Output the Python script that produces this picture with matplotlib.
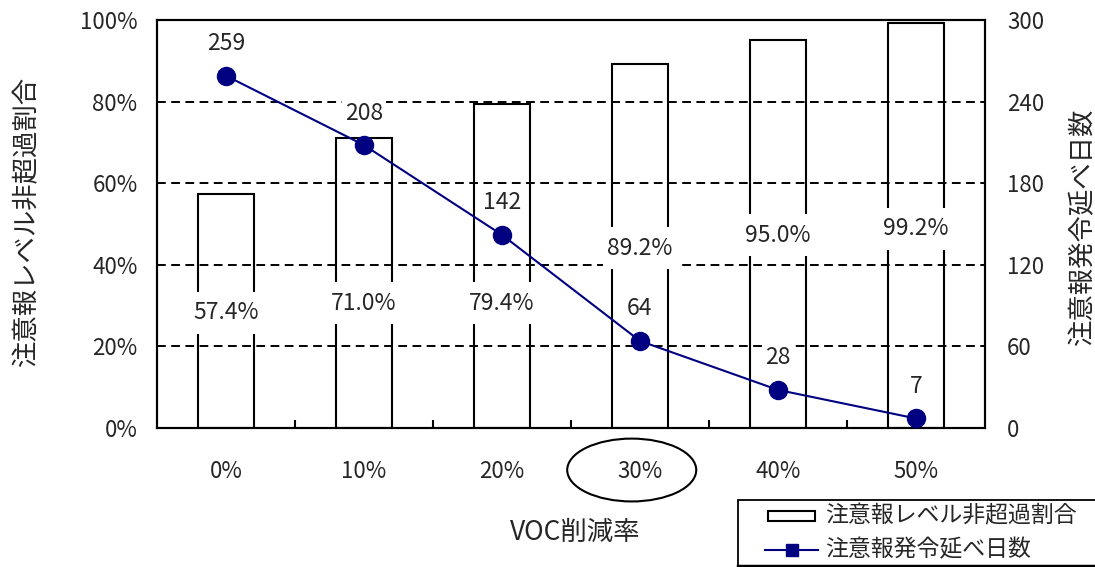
import matplotlib
matplotlib.use('Agg')
import matplotlib.pyplot as plt
from matplotlib.patches import Rectangle, Ellipse
from matplotlib.lines import Line2D

plt.rcParams['font.family'] = ['Noto Sans CJK JP', 'DejaVu Sans']

# --- data ---
categories = ['0%', '10%', '20%', '30%', '40%', '50%']
non_exceed_pct = [57.4, 71.0, 79.4, 89.2, 95.0, 99.2]   # 注意報レベル非超過割合 (%)
alert_days = [259, 208, 142, 64, 28, 7]                  # 注意報発令延べ日数
left_ticks = [0, 20, 40, 60, 80, 100]
right_ticks = [0, 60, 120, 180, 240, 300]

# vertical placement of the percentage labels inside the bars (left-axis units)
pct_label_y = [28.2, 30.6, 30.6, 44.1, 47.3, 48.8]

NAVY = '#000080'
TXT = '#262626'
TICK_FS = 16
LABEL_FS = 16.5

W, H = 1095, 567
fig = plt.figure(figsize=(W / 100, H / 100), dpi=100)


def fx(px):
    return px / W


def fy(py):
    return 1 - py / H


ax = fig.add_axes([fx(157), fy(428), fx(985) - fx(157), fy(20) - fy(428)])
ax2 = ax.twinx()
xs = list(range(len(categories)))

ax.set_xlim(-0.5, len(categories) - 0.5)
ax.set_ylim(left_ticks[0], left_ticks[-1])
ax2.set_ylim(right_ticks[0], right_ticks[-1])

# dashed horizontal grid
for v in left_ticks[1:-1]:
    ax.axhline(v, color='black', lw=1.4, ls=(0, (4.5, 2.8)), zorder=1)

# hollow bars
ax.bar(xs, non_exceed_pct, width=0.41, facecolor='none', edgecolor='black',
       lw=1.5, zorder=2)

# percentage labels on white patches
for i, (v, ly) in enumerate(zip(non_exceed_pct, pct_label_y)):
    ax.add_patch(Rectangle((i - 0.27, ly - 5.2), 0.54, 10.4, facecolor='white',
                           edgecolor='none', zorder=4))
    ax.text(i, ly, f'{v:.1f}%', ha='center', va='center', fontsize=LABEL_FS,
            color=TXT, zorder=5)

# line of alert days on the secondary axis
ax2.plot(xs, alert_days, color=NAVY, lw=1.5, zorder=2)
ax2.plot(xs, alert_days, ls='none', marker='o', ms=13, color=NAVY, zorder=4)
for i, v in enumerate(alert_days):
    ax2.annotate(str(v), (i, v), xytext=(0, 32), textcoords='offset pixels',
                 ha='center', va='center', fontsize=LABEL_FS, color=TXT,
                 zorder=3,
                 bbox=dict(boxstyle='square,pad=0.12', facecolor='white',
                           edgecolor='none'))

# axes styling
for a in (ax, ax2):
    for s in a.spines.values():
        s.set_linewidth(1.5)
        s.set_color('black')

ax.set_yticks(left_ticks)
ax.set_yticklabels([f'{t}%' for t in left_ticks])
ax2.set_yticks(right_ticks)
ax2.set_yticklabels([str(t) for t in right_ticks])
ax.tick_params(axis='y', length=0, pad=14, labelsize=TICK_FS, labelcolor=TXT)
ax2.tick_params(axis='y', length=0, pad=16, labelsize=TICK_FS, labelcolor=TXT)

ax.set_xticks(xs)
ax.set_xticklabels(categories)
ax.tick_params(axis='x', which='major', length=0, pad=23, labelsize=TICK_FS,
               labelcolor=TXT)
ax.set_xticks([i + 0.5 for i in xs[:-1]], minor=True)
ax.tick_params(axis='x', which='minor', direction='in', length=6, width=1.5)

# highlight the 30% case
ax.add_patch(Ellipse((2.94, -0.103), width=0.935, height=0.154,
                     transform=ax.get_xaxis_transform(), fill=False,
                     edgecolor='black', lw=1.5, clip_on=False))

# axis titles
fig.text(fx(27), fy(222), '注意報レベル非超過割合', rotation=90, ha='center',
         va='center', fontsize=19, color=TXT)
fig.text(fx(1083), fy(227), '注意報発令延べ日数', rotation=90, ha='center',
         va='center', fontsize=19, color=TXT)
fig.text(fx(575), fy(532), 'VOC削減率', ha='center', va='center', fontsize=19,
         color=TXT)

# legend box
fig.patches.append(Rectangle((fx(738), fy(566)), fx(1110) - fx(738),
                             fy(500) - fy(566), transform=fig.transFigure,
                             fill=False, edgecolor='black', lw=1.3))
fig.lines.append(Line2D([fx(738), fx(1110)], [fy(565.5)] * 2,
                        transform=fig.transFigure, color='black', lw=2.5))
fig.patches.append(Rectangle((fx(768), fy(521)), fx(815) - fx(768),
                             fy(511) - fy(521), transform=fig.transFigure,
                             fill=False, edgecolor='black', lw=1.5))
fig.text(fx(825), fy(516), '注意報レベル非超過割合', ha='left', va='center',
         fontsize=16.5, color=TXT)
fig.lines.append(Line2D([fx(765), fx(818)], [fy(550)] * 2,
                        transform=fig.transFigure, color=NAVY, lw=1.5))
fig.lines.append(Line2D([fx(791.5)], [fy(550)], transform=fig.transFigure,
                        marker='s', ms=8, color=NAVY, ls='none'))
fig.text(fx(825), fy(550), '注意報発令延べ日数', ha='left', va='center',
         fontsize=16.5, color=TXT)

fig.savefig('out.png', dpi=100)
